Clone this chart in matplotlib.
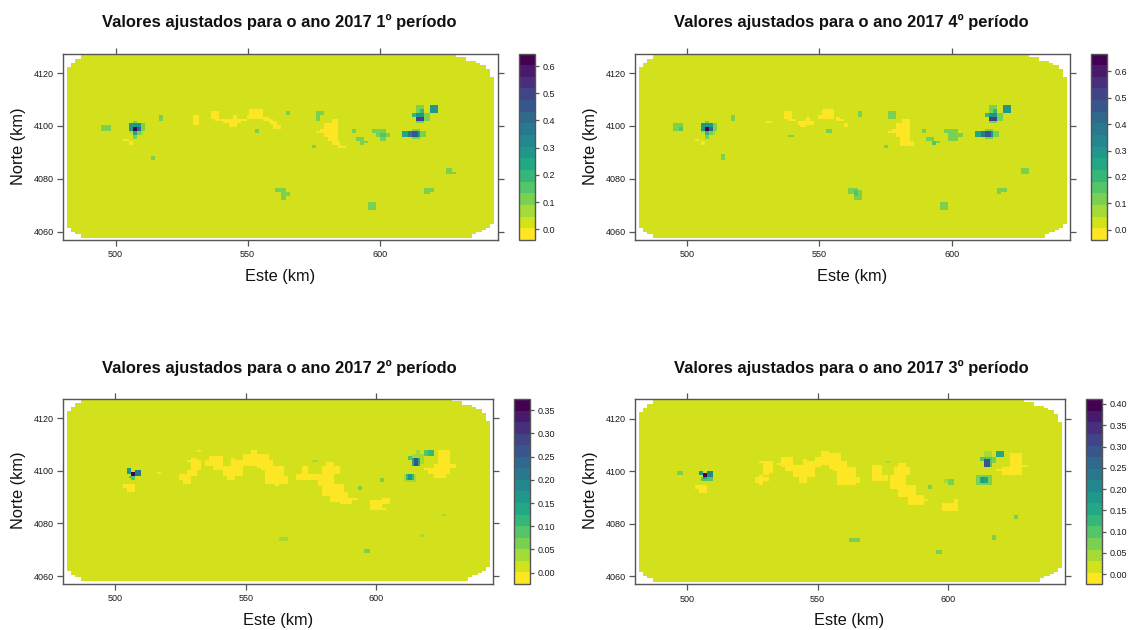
import numpy as np
import matplotlib
matplotlib.use("Agg")
import matplotlib.pyplot as plt
from matplotlib.colors import BoundaryNorm, ListedColormap
from matplotlib.cm import ScalarMappable

plt.rcParams['font.family'] = ['Liberation Sans', 'DejaVu Sans']

TITLES = ["Valores ajustados para o ano 2017 1º período",
          "Valores ajustados para o ano 2017 4º período",
          "Valores ajustados para o ano 2017 2º período",
          "Valores ajustados para o ano 2017 3º período"]
X_TICKS = [500, 550, 600]
Y_TICKS = [4060, 4080, 4100, 4120]
CBAR_RANGE = [(-0.039, 0.646), (-0.039, 0.668), (-0.0243, 0.374), (-0.024, 0.411)]
CBAR_TICKS = [[0.0, 0.1, 0.2, 0.3, 0.4, 0.5, 0.6],
              [0.0, 0.1, 0.2, 0.3, 0.4, 0.5, 0.6],
              [0.00, 0.05, 0.10, 0.15, 0.20, 0.25, 0.30, 0.35],
              [0.00, 0.05, 0.10, 0.15, 0.20, 0.25, 0.30, 0.35, 0.40]]
BACKGROUND = [0.025, 0.025, 0.013, 0.016]
LOW_VALUE = [-0.02, -0.02, -0.015, -0.015]
GRID_SHAPE = [(92, 213), (92, 213), (90, 211), (90, 211)]

INSET_TOP_LEFT = [7, 7, 4, 4, 2, 2]
INSET_BOTTOM_LEFT = [7, 7, 4, 2, 2]
INSET_TOP_RIGHT = [19, 14, 14, 9, 7, 4, 4, 2, 2, 2, 2]
INSET_BOTTOM_RIGHT = [11, 11, 9, 6, 4, 2, 2]

# Cells below zero: (col0, col1, row0, row1)
LOW_1 = [(28,31,42,43),(31,33,43,45),(63,66,30,35),(72,76,28,32),(74,78,32,33),(81,85,33,36),(78,87,32,34),
         (83,85,30,33),(87,90,32,33),(90,92,30,32),(91,98,27,32),(98,101,31,33),(101,103,32,34),(102,105,33,35),
         (103,107,35,37),(132,135,32,34),(128,135,34,37),(126,135,37,39),(124,126,38,39),(128,135,39,41),
         (130,135,41,43),(132,136,43,45),(135,137,45,47),(136,139,46,47)]
LOW_4 = [(28,30,42,43),(31,33,43,45),(63,66,33,34),(72,76,28,32),(74,78,32,33),(79,87,33,35),(80,83,35,36),
         (83,85,31,33),(91,97,27,32),(89,91,30,32),(98,100,31,33),(100,102,32,33),(102,104,34,36),
         (131,135,32,34),(128,135,34,37),(126,135,37,39),(124,126,38,39),(128,135,39,41),(130,135,41,43),(130,137,43,46)]
LOW_2 = [(28,34,42,44),(30,34,44,46),(45,47,36,37),(65,67,25,26),(60,62,30,31),(62,65,29,35),(65,67,30,35),
         (60,65,35,38),(56,62,37,40),(58,62,40,42),(69,71,30,33),(71,78,28,33),(73,80,33,35),(78,88,33,38),
         (80,84,38,40),(82,84,29,33),(84,88,30,34),(88,92,27,33),(92,95,25,33),(95,101,27,34),(97,103,30,35),
         (99,108,33,42),(101,110,38,42),(104,106,42,43),(114,120,37,40),(117,120,33,37),(120,125,37,40),
         (129,133,31,33),(127,136,33,37),(125,133,37,43),(127,138,42,48),(131,140,46,51),(136,142,49,52),(142,145,49,50),
         (151,157,50,55),(153,159,54,55),(157,161,49,52),(185,191,25,32),(183,194,32,34),(178,181,34,35),
         (180,191,34,37),(183,189,37,39)]
LOW_3 = [(28,34,42,44),(30,34,44,46),(60,62,30,31),(62,67,30,36),(62,65,36,37),(60,62,37,42),(58,60,38,41),(62,65,38,40),
         (69,71,31,32),(71,77,28,33),(73,80,32,35),(77,88,32,38),(80,84,38,41),(82,84,29,32),(84,88,30,34),
         (88,91,28,33),(91,95,25,32),(95,101,26,34),(97,104,30,35),(99,108,33,42),(101,110,38,41),(104,106,41,42),
         (116,121,32,40),(120,124,37,40),(129,133,31,33),(127,135,33,37),(125,133,37,44),(129,138,42,48),(134,142,47,52),
         (142,144,49,50),(151,159,51,55),(157,159,49,51),(185,191,26,33),(181,191,33,37),(178,181,34,35),(191,194,32,33)]

# Cells above the background: (col0, col1, row0, row1, value)
WEST_PEAK_TOP = [(33,35,33,34,0.11),(31,37,34,36,0.28),(37,39,34,36,0.11),(31,33,36,38,0.30),(33,35,36,38,0.64),
                 (35,37,36,38,0.42),(37,39,36,38,0.11),(33,35,38,40,0.22),(35,37,38,40,0.13),(37,38,38,40,0.07),
                 (33,35,40,42,0.13),(31,33,38,39,0.07)]
EAST_PEAKS_TOP = [(172,176,37,38,0.11),(167,170,38,41,0.25),(170,175,38,41,0.36),(172,175,38,41,0.46),(175,176,38,41,0.30),
                  (176,179,38,41,0.11),(172,176,41,42,0.11),(174,178,25,27,0.11),(174,176,27,29,0.13),(176,178,27,29,0.20),
                  (172,174,29,31,0.20),(174,178,29,31,0.30),(178,181,29,33,0.13),(174,178,31,33,0.50),(174,178,33,34,0.11),
                  (181,185,25,29,0.30)]
HIGH_1 = WEST_PEAK_TOP + EAST_PEAKS_TOP + [
    (17,22,35,38,0.11),(20,22,36,38,0.13),(46,48,30,33,0.11),(42,44,51,53,0.11),(94,96,37,39,0.11),(109,111,28,30,0.11),
    (104,109,67,69,0.11),(107,111,69,71,0.13),(107,109,71,73,0.09),(124,128,28,30,0.11),(124,126,30,33,0.13),
    (142,144,37,39,0.11),(144,148,41,43,0.11),(146,150,43,44,0.11),(146,148,43,45,0.13),(152,159,37,39,0.11),
    (154,161,39,41,0.11),(156,159,39,41,0.15),(156,159,41,43,0.11),(122,124,45,47,0.11),(150,154,74,78,0.11),
    (150,152,74,76,0.13),(189,192,57,60,0.13),(191,194,59,60,0.11),(178,181,67,70,0.13),(181,183,67,69,0.11)]
HIGH_4 = WEST_PEAK_TOP + EAST_PEAKS_TOP + [
    (17,22,34,38,0.11),(20,22,36,38,0.15),(46,48,30,33,0.13),(41,43,50,53,0.13),(93,96,37,39,0.11),(74,77,40,41,0.11),
    (109,111,28,31,0.11),(104,109,67,70,0.11),(107,111,68,73,0.11),(107,109,68,71,0.15),(124,128,28,32,0.11),
    (141,143,37,39,0.11),(143,147,41,43,0.13),(146,148,43,45,0.15),(148,150,43,44,0.11),(152,159,37,39,0.11),
    (154,161,39,41,0.13),(154,159,41,43,0.11),(122,124,45,47,0.11),(150,154,74,78,0.13),(190,194,57,60,0.13),
    (178,183,67,69,0.11),(178,180,69,70,0.13)]
HIGH_2 = [(32,34,36,38,0.37),(30,32,34,37,0.17),(34,37,35,38,0.20),(31,34,38,39,0.10),(32,34,38,40,0.08),
          (106,110,68,70,0.05),(122,125,30,31,0.04),(145,147,43,45,0.06),(156,158,39,41,0.06),(148,151,74,76,0.07),
          (176,178,67,68,0.05),(187,189,57,58,0.04),(174,176,25,27,0.04),(172,178,27,29,0.05),(170,172,28,30,0.10),
          (172,176,29,33,0.13),(173,175,29,33,0.25),(176,178,29,32,0.05),(178,183,25,28,0.12),(178,180,25,28,0.10),
          (168,174,37,41,0.05),(169,173,37,40,0.12),(170,172,37,40,0.16)]
HIGH_3 = [(32,34,36,38,0.42),(30,32,35,37,0.18),(34,37,35,38,0.22),(31,37,38,40,0.09),(32,34,38,39,0.14),
          (19,22,35,37,0.07),(105,110,68,70,0.07),(123,125,30,31,0.04),(144,146,42,44,0.07),(152,157,39,41,0.05),
          (154,157,39,42,0.08),(148,151,74,76,0.07),(176,178,67,69,0.07),(187,189,57,59,0.07),(172,176,25,29,0.05),
          (170,172,28,30,0.10),(172,176,28,33,0.11),(172,175,29,33,0.28),(176,178,28,31,0.07),(178,182,25,28,0.14),
          (168,176,37,42,0.06),(170,174,38,41,0.14),(171,172,38,41,0.18)]
LOWS = [LOW_1, LOW_4, LOW_2, LOW_3]
HIGHS = [HIGH_1, HIGH_4, HIGH_2, HIGH_3]

W, H = 1131, 630
AXES_BOX = [(63.3, 497.7, 53.7, 239.7), (635, 1069.7, 53.7, 239.7), (63.3, 493.3, 399, 584), (635, 1065.3, 399.3, 584.3)]
CBAR_BOX = [(519, 534.7, 53.5, 240), (1090.7, 1106.7, 53.5, 240), (514.3, 529.7, 399, 584), (1086.3, 1101.7, 399.3, 584.3)]
IMG_EXTENT = [(481.7, 643.3, 4057.6, 4126.7), (481.7, 643.3, 4057.6, 4126.7), (481.7, 643.3, 4058.0, 4126.8), (481.7, 643.3, 4058.0, 4126.8)]
TITLE_POS = [(279.5, 22), (851.5, 22), (279.5, 368.5), (851.5, 368.5)]
XLABEL_POS = [(280, 276.5), (852, 276.5), (278, 620), (849, 620)]
YLABEL_POS = [(19, 146), (591, 146), (19, 490), (591, 490)]

EDGE = '#555555'
TEXT = '#1a1a1a'
colors = plt.get_cmap('viridis', 16)(np.arange(16))[::-1]
cmap = ListedColormap(colors)

def fx(v):
    return v / W

def fy(v):
    return 1 - v / H

def build(idx):
    rows, cols = GRID_SHAPE[idx]
    grid = np.full((rows, cols), BACKGROUND[idx], dtype=float)
    for c0, c1, r0, r1 in LOWS[idx]:
        grid[r0:r1, c0:c1] = LOW_VALUE[idx]
    for c0, c1, r0, r1, v in HIGHS[idx]:
        grid[r0:r1, c0:c1] = v
    for r, n in enumerate(INSET_TOP_LEFT):
        grid[r, :n] = np.nan
    for r, n in enumerate(INSET_BOTTOM_LEFT):
        grid[rows - 1 - r, :n] = np.nan
    for r, n in enumerate(INSET_TOP_RIGHT):
        grid[r, cols - n:] = np.nan
    for r, n in enumerate(INSET_BOTTOM_RIGHT):
        grid[rows - 1 - r, cols - n:] = np.nan
    return grid

fig = plt.figure(figsize=(W / 100, H / 100), dpi=100)

for i in range(4):
    l, r, t, b = AXES_BOX[i]
    ax = fig.add_axes([fx(l), fy(b), (r - l) / W, (b - t) / H])
    lo, hi = CBAR_RANGE[i]
    bounds = np.linspace(lo, hi, 17)
    norm = BoundaryNorm(bounds, 16)
    ax.imshow(build(i), extent=IMG_EXTENT[i], origin='upper', aspect='auto',
              cmap=cmap, norm=norm, interpolation='nearest')
    ax.set_xlim(480.2, 644.7)
    ax.set_ylim(4057, 4127.3)
    ax.set_xticks(X_TICKS)
    ax.set_yticks(Y_TICKS)
    ax.tick_params(axis='both', which='major', direction='out', length=4, width=0.9,
                   color=EDGE, labelsize=6.5, labelcolor=TEXT, top=True, right=True, pad=2.5)
    ax.tick_params(axis='x', pad=3.5)
    for s in ax.spines.values():
        s.set_color(EDGE)
        s.set_linewidth(1.0)

    cl, cr, ct, cb = CBAR_BOX[i]
    cax = fig.add_axes([fx(cl), fy(cb), (cr - cl) / W, (cb - ct) / H])
    cbar = fig.colorbar(ScalarMappable(norm=norm, cmap=cmap), cax=cax, ticks=CBAR_TICKS[i],
                        spacing='proportional', drawedges=False)
    fmt = '%.1f' if i < 2 else '%.2f'
    cbar.ax.set_yticklabels([fmt % v for v in CBAR_TICKS[i]])
    cbar.ax.minorticks_off()
    cbar.ax.tick_params(length=3, width=0.9, color=EDGE, labelsize=6.5, labelcolor=TEXT, pad=2.5)
    cbar.outline.set_edgecolor(EDGE)
    cbar.outline.set_linewidth(1.0)

    fig.text(fx(TITLE_POS[i][0]), fy(TITLE_POS[i][1]), TITLES[i], ha='center', va='center',
             fontsize=11.9, fontweight='bold', color='#111111')
    fig.text(fx(XLABEL_POS[i][0]), fy(XLABEL_POS[i][1]), "Este (km)", ha='center', va='center',
             fontsize=11.8, color='#111111')
    fig.text(fx(YLABEL_POS[i][0]), fy(YLABEL_POS[i][1]), "Norte (km)", ha='center', va='center',
             rotation=90, fontsize=11.8, color='#111111')

fig.savefig('out.png', dpi=100)
